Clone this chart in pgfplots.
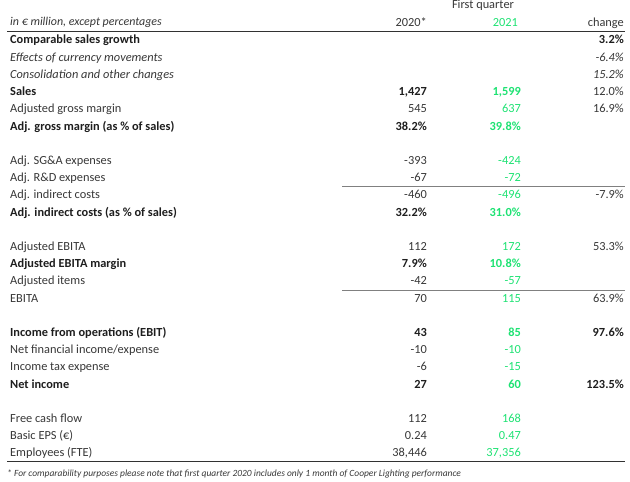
\documentclass[border=0pt]{standalone}
\usepackage{pgfplots}
\pgfplotsset{compat=1.18}
\usepackage{pgfplotstable}
\usepackage{fontspec}
\setmainfont{Carlito}
\definecolor{txt}{RGB}{55,55,55}
\definecolor{dark}{RGB}{30,30,30}
\definecolor{grn}{RGB}{30,226,115}
\definecolor{rule}{RGB}{50,50,50}

% ---- row labels ----
\pgfplotstableread[col sep=semicolon]{
y;t
44.0;Comparable sales growth
95.6;Sales
130.0;Adj. gross margin (as \% of sales)
216.0;Adj. indirect costs (as \% of sales)
267.6;Adjusted EBITA margin
336.4;Income from operations (EBIT)
388.0;Net income
}\labbold
\pgfplotstableread[col sep=semicolon]{
y;t
61.2;Effects of currency movements
78.4;Consolidation and other changes
}\labital
\pgfplotstableread[col sep=semicolon]{
y;t
112.8;Adjusted gross margin
164.4;Adj. SG\&A expenses
181.6;Adj. R\&D expenses
198.8;Adj. indirect costs
250.4;Adjusted EBITA
284.8;Adjusted items
302.0;EBITA
353.6;Net financial income/expense
370.8;Income tax expense
422.4;Free cash flow
439.6;Basic EPS (€)
456.8;Employees (FTE)
}\labreg
% ---- 2020 ----
\pgfplotstableread[col sep=semicolon]{
y;t
95.6;1,427
130.0;38.2\%
216.0;32.2\%
267.6;7.9\%
336.4;43
388.0;27
}\abold
\pgfplotstableread[col sep=semicolon]{
y;t
112.8;545
164.4;-393
181.6;-67
198.8;-460
250.4;112
284.8;-42
302.0;70
353.6;-10
370.8;-6
422.4;112
439.6;0.24
456.8;38,446
}\areg
% ---- 2021 ----
\pgfplotstableread[col sep=semicolon]{
y;t
95.6;1,599
130.0;39.8\%
216.0;31.0\%
267.6;10.8\%
336.4;85
388.0;60
}\bbold
\pgfplotstableread[col sep=semicolon]{
y;t
112.8;637
164.4;-424
181.6;-72
198.8;-496
250.4;172
284.8;-57
302.0;115
353.6;-10
370.8;-15
422.4;168
439.6;0.47
456.8;37,356
}\breg
% ---- change ----
\pgfplotstableread[col sep=semicolon]{
y;t
44.0;3.2\%
336.4;97.6\%
388.0;123.5\%
}\cbold
\pgfplotstableread[col sep=semicolon]{
y;t
61.2;-6.4\%
78.4;15.2\%
}\cital
\pgfplotstableread[col sep=semicolon]{
y;t
95.6;12.0\%
112.8;16.9\%
198.8;-7.9\%
250.4;53.3\%
302.0;63.9\%
}\creg

\pgfplotsset{
  txtcol/.style={only marks, mark=none, nodes near coords, point meta=explicit symbolic,
    every node near coord/.append style={inner sep=0pt, #1}},
}
\newcommand\fs{\fontsize{12.4}{14}\selectfont}

\begin{document}
\begin{tikzpicture}
\begin{axis}[
  width=630bp, height=481bp, scale only axis,
  xmin=0, xmax=630, ymin=0, ymax=481, y dir=reverse,
  hide axis, clip=false,
]
% labels
\addplot[txtcol={anchor=base west, font=\fs\bfseries, text=dark}] table[x expr=10, y=y, meta=t] {\labbold};
\addplot[txtcol={anchor=base west, font=\fs\itshape, text=txt}] table[x expr=10, y=y, meta=t] {\labital};
\addplot[txtcol={anchor=base west, font=\fs, text=txt}] table[x expr=10, y=y, meta=t] {\labreg};
% 2020
\addplot[txtcol={anchor=base east, font=\fs\bfseries, text=dark}] table[x expr=427, y=y, meta=t] {\abold};
\addplot[txtcol={anchor=base east, font=\fs, text=txt}] table[x expr=427, y=y, meta=t] {\areg};
% 2021
\addplot[txtcol={anchor=base east, font=\fs\bfseries, text=grn}] table[x expr=521, y=y, meta=t] {\bbold};
\addplot[txtcol={anchor=base east, font=\fs, text=grn}] table[x expr=521, y=y, meta=t] {\breg};
% change
\addplot[txtcol={anchor=base east, font=\fs\bfseries, text=dark}] table[x expr=624, y=y, meta=t] {\cbold};
\addplot[txtcol={anchor=base east, font=\fs\itshape, text=txt}] table[x expr=624, y=y, meta=t] {\cital};
\addplot[txtcol={anchor=base east, font=\fs, text=txt}] table[x expr=624, y=y, meta=t] {\creg};
% rules
\addplot[rule, line width=1.5pt] coordinates {(7,31.7) (625,31.7)};
\addplot[gray, line width=0.8pt] coordinates {(342,186.6) (625,186.6)};
\addplot[gray, line width=0.8pt] coordinates {(342,290.6) (625,290.6)};
\addplot[rule, line width=1.5pt] coordinates {(7,461.7) (625,461.7)};
% headers
\node[anchor=base, inner sep=0pt, font=\fs, text=txt] at (axis cs:483,8.7) {First quarter};
\node[anchor=base east, inner sep=0pt, font=\fs, text=txt] at (axis cs:427,26.5) {2020*};
\node[anchor=base east, inner sep=0pt, font=\fs, text=grn] at (axis cs:518,26.5) {2021};
\node[anchor=base east, inner sep=0pt, font=\fs, text=txt] at (axis cs:624,26.5) {change};
\node[anchor=base west, inner sep=0pt, font=\fontsize{12}{14}\selectfont\itshape, text=txt] at (axis cs:10,26) {in € million, except percentages};
\node[anchor=base west, inner sep=0pt, font=\fontsize{9.5}{11}\selectfont\itshape, text=txt] at (axis cs:7,476) {* For comparability purposes please note that first quarter 2020 includes only 1 month of Cooper Lighting performance};
\end{axis}
\path (current axis.south west) (current axis.north east);
\end{tikzpicture}
\end{document}
